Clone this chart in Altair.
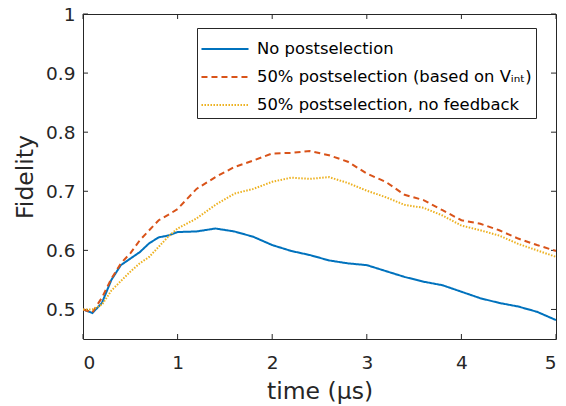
import altair as alt
import pandas as pd

# time grid (µs)
times = [0.0, 0.1, 0.2, 0.3, 0.4, 0.5, 0.6, 0.7, 0.8, 0.9, 1.0,
         1.2, 1.4, 1.6, 1.8, 2.0, 2.2, 2.4, 2.6, 2.8, 3.0,
         3.2, 3.4, 3.6, 3.8, 4.0, 4.2, 4.4, 4.6, 4.8, 5.0]

no_post = [0.500, 0.494, 0.511, 0.550, 0.575, 0.586, 0.597, 0.612, 0.622, 0.625, 0.631,
           0.632, 0.637, 0.632, 0.623, 0.609, 0.599, 0.592, 0.583, 0.578, 0.575,
           0.565, 0.555, 0.547, 0.541, 0.530, 0.519, 0.511, 0.505, 0.496, 0.482]

post_vint = [0.500, 0.495, 0.520, 0.552, 0.578, 0.595, 0.617, 0.634, 0.651, 0.660, 0.670,
             0.704, 0.724, 0.741, 0.752, 0.764, 0.765, 0.768, 0.761, 0.750, 0.730,
             0.716, 0.694, 0.685, 0.668, 0.651, 0.645, 0.634, 0.620, 0.609, 0.599]

post_nofb = [0.500, 0.500, 0.508, 0.532, 0.548, 0.564, 0.578, 0.589, 0.606, 0.623, 0.637,
             0.654, 0.677, 0.696, 0.704, 0.716, 0.723, 0.721, 0.724, 0.714, 0.701,
             0.690, 0.677, 0.672, 0.659, 0.642, 0.634, 0.625, 0.611, 0.600, 0.589]

series_names = ["No postselection",
                "50% postselection (based on V\u1d62\u2099\u209c)",
                "50% postselection, no feedback"]
series_colors = ["#0072BD", "#D95319", "#EDB120"]
series_dash = [[1, 0], [6, 4], [1.5, 1.5]]

x_ticks = [0, 1, 2, 3, 4, 5]
y_ticks = [0.5, 0.6, 0.7, 0.8, 0.9, 1.0]

W, H = 473, 325
AX = "#262626"
FONT = "DejaVu Sans"

rows = []
for name, vals in zip(series_names, [no_post, post_vint, post_nofb]):
    for t, v in zip(times, vals):
        rows.append({"t": t, "F": v, "series": name})
df = pd.DataFrame(rows)

xs = alt.Scale(domain=[0, 5], nice=False, zero=False)
ys = alt.Scale(domain=[0.45, 1.0], nice=False, zero=False)

lines = alt.Chart(df).mark_line(strokeWidth=2, clip=True).encode(
    x=alt.X("t:Q", scale=xs,
            axis=alt.Axis(values=x_ticks, format="~g", title="time (\u03bcs)", grid=False,
                          ticks=False, domain=False, labelFontSize=18.5, labelPadding=14,
                          labelColor=AX, titleFontSize=23.5, titleFontWeight="normal",
                          titleColor=AX, titlePadding=8, labelFont=FONT, titleFont=FONT)),
    y=alt.Y("F:Q", scale=ys,
            axis=alt.Axis(values=y_ticks, format="~g", title="Fidelity", grid=False, ticks=False,
                          domain=False, labelFontSize=18.5, labelPadding=8, labelColor=AX,
                          titleFontSize=23.5, titleFontWeight="normal", titleColor=AX,
                          titlePadding=8, labelFont=FONT, titleFont=FONT)),
    color=alt.Color("series:N", scale=alt.Scale(domain=series_names, range=series_colors),
                    legend=alt.Legend(title=None, orient="none", legendX=114, legendY=14,
                                      symbolType="M-1.47,0L1.47,0", symbolSize=1024,
                                      symbolOffset=7, symbolStrokeWidth=2,
                                      symbolFillColor="transparent",
                                      labelFontSize=16.4, labelFont=FONT, labelColor="#000000",
                                      strokeColor=AX, fillColor="white", padding=4,
                                      rowPadding=2, labelOffset=15, labelLimit=400)),
    strokeDash=alt.StrokeDash("series:N", scale=alt.Scale(domain=series_names, range=series_dash),
                              legend=None),
    order=alt.Order("t:Q"),
)

xt = pd.DataFrame({"v": x_ticks})
yt = pd.DataFrame({"v": y_ticks})
tick_x_bottom = alt.Chart(xt).mark_rule(color=AX, strokeWidth=1).encode(
    x=alt.X("v:Q", scale=xs), y=alt.value(H), y2=alt.value(H - 5))
tick_x_top = alt.Chart(xt).mark_rule(color=AX, strokeWidth=1).encode(
    x=alt.X("v:Q", scale=xs), y=alt.value(0), y2=alt.value(5))
tick_y_left = alt.Chart(yt).mark_rule(color=AX, strokeWidth=1).encode(
    y=alt.Y("v:Q", scale=ys), x=alt.value(0), x2=alt.value(5))
tick_y_right = alt.Chart(yt).mark_rule(color=AX, strokeWidth=1).encode(
    y=alt.Y("v:Q", scale=ys), x=alt.value(W), x2=alt.value(W - 5))

chart = alt.layer(tick_x_bottom, tick_x_top, tick_y_left, tick_y_right, lines).properties(
    width=W, height=H,
    autosize=alt.AutoSizeParams(type="none"),
    padding={"left": 83, "top": 14, "right": 10, "bottom": 67},
    background="white",
).configure_view(stroke=AX, strokeWidth=1)

chart.save("out.html", embed_options={"renderer": "svg", "actions": False})
